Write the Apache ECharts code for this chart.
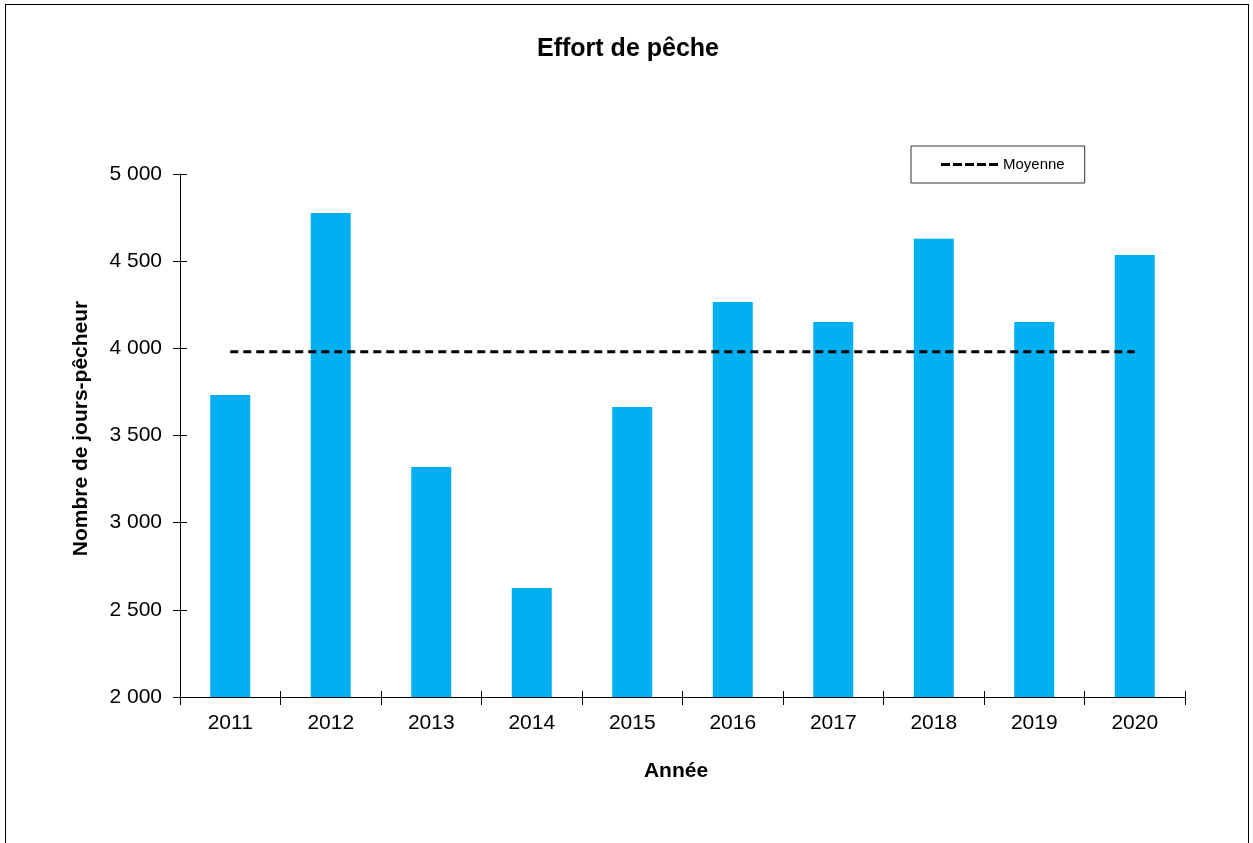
<!DOCTYPE html>
<html>
<head>
<meta charset="utf-8">
<script src="https://cdn.jsdelivr.net/npm/echarts@6/dist/echarts.min.js"></script>
<style>
  html, body { margin: 0; padding: 0; background: #fff; }
  #frame { position: absolute; left: 5px; top: 4px; width: 1242px; height: 860px; border: 1px solid #000; }
  #chart { position: absolute; left: 0; top: 0; width: 1253px; height: 843px; }
</style>
</head>
<body>
<div id="frame"></div>
<div id="chart"></div>
<script>
// années
var annees = ['2011', '2012', '2013', '2014', '2015', '2016', '2017', '2018', '2019', '2020'];
// nombre de jours-pêcheur
var effort = [3733, 4777, 3320, 2625, 3664, 4266, 4151, 4628, 4151, 4536];
// moyenne
var moyenne = 3980;
var yTicks = [2000, 2500, 3000, 3500, 4000, 4500, 5000];

var police = 'Liberation Sans, Arial, sans-serif';

function fmt(v) {
    return String(v).replace(/\B(?=(\d{3})+(?!\d))/g, ' ');
}

// petite icône pointillée pour la légende (5 tirets)
var iconTirets = 'path://M0,0h9v3h-9z M12,0h9v3h-9z M24,0h9v3h-9z M36,0h9v3h-9z M48,0h9v3h-9z';

var chart = echarts.init(document.getElementById('chart'));

chart.setOption({
    animation: false,
    backgroundColor: 'transparent',
    title: {
        text: 'Effort de pêche',
        left: 623, top: 32,
        textAlign: 'center',
        textStyle: { fontFamily: police, fontSize: 25, fontWeight: 'bold', color: '#000' }
    },
    legend: {
        left: 911, top: 146,
        data: [{ name: 'Moyenne', icon: iconTirets, itemStyle: { color: '#000' } }],
        itemWidth: 57, itemHeight: 3,
        itemGap: 0,
        padding: [10, 20, 10, 30],
        borderColor: '#333', borderWidth: 1, borderRadius: 0,
        backgroundColor: '#fff',
        textStyle: { fontFamily: police, fontSize: 15, color: '#000', lineHeight: 17 }
    },
    grid: { left: 180, right: 68, top: 174, bottom: 146 },
    xAxis: [{
        type: 'category',
        data: annees,
        axisLine: { lineStyle: { color: '#000', width: 1 } },
        axisTick: { show: true, inside: false, length: 8, lineStyle: { color: '#000' } },
        axisLabel: { color: '#000', fontFamily: police, fontSize: 21, margin: 16 },
        name: 'Année',
        nameLocation: 'middle',
        nameGap: 64,
        nameTextStyle: { fontFamily: police, fontSize: 21, fontWeight: 'bold', color: '#000', padding: [0, 13, 0, 0] }
    }, {
        type: 'category',
        data: annees,
        position: 'bottom',
        axisLine: { show: false },
        axisTick: { show: true, inside: true, length: 6, lineStyle: { color: '#000' } },
        axisLabel: { show: false }
    }],
    yAxis: [{
        type: 'value',
        min: yTicks[0], max: yTicks[yTicks.length - 1], interval: 500,
        axisLine: { show: true, lineStyle: { color: '#000', width: 1 } },
        axisTick: { show: true, inside: false, length: 7, lineStyle: { color: '#000' } },
        splitLine: { show: false },
        axisLabel: { color: '#000', fontFamily: police, fontSize: 21, margin: 18, formatter: fmt },
        name: 'Nombre de jours-pêcheur',
        nameLocation: 'middle',
        nameGap: 88,
        nameTextStyle: { fontFamily: police, fontSize: 21, fontWeight: 'bold', color: '#000', padding: [0, 0, 0, 14] }
    }, {
        type: 'value',
        position: 'left',
        min: yTicks[0], max: yTicks[yTicks.length - 1], interval: 500,
        axisLine: { show: false },
        axisTick: { show: true, inside: true, length: 7, lineStyle: { color: '#000' } },
        splitLine: { show: false },
        axisLabel: { show: false }
    }],
    series: [{
        name: 'Effort',
        type: 'bar',
        data: effort,
        barWidth: 40,
        itemStyle: { color: '#00B0F0' }
    }, {
        name: 'Moyenne',
        type: 'line',
        data: annees.map(function () { return moyenne; }),
        symbol: 'none',
        lineStyle: { color: '#000', width: 3, type: [8, 5] },
        itemStyle: { color: '#000' },
        z: 5
    }]
});
</script>
</body>
</html>
